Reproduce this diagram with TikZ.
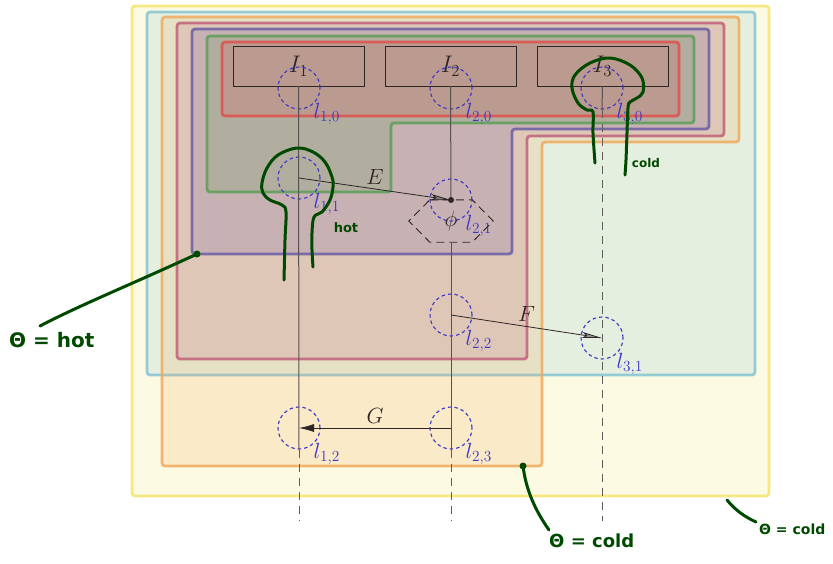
\RequirePackage{fix-cm}
\documentclass[tikz,border=0pt]{standalone}
\usepackage{fontspec}
\newfontfamily\handfont{DejaVu Sans}
\usetikzlibrary{arrows.meta}
\definecolor{cyel}{HTML}{F2E56E}
\definecolor{ccyan}{HTML}{86C3D3}
\definecolor{corange}{HTML}{F0AA5E}
\definecolor{cpink}{HTML}{C0607A}
\definecolor{cind}{HTML}{6A5FA6}
\definecolor{cgreen}{HTML}{5C9E58}
\definecolor{cred}{HTML}{E2504C}
\definecolor{hand}{HTML}{004A00}
\definecolor{lblue}{HTML}{3B36C8}
\definecolor{ink}{HTML}{2E2626}
\begin{document}
\begin{tikzpicture}[x=1pt,y=-1pt,
  region/.style={line width=2.8pt, rounded corners=3pt, fill opacity=0.2, draw opacity=0.85},
  ibox/.style={draw=ink, line width=0.7pt, minimum width=131pt, minimum height=40pt, inner sep=0pt, text=ink, font=\fontsize{24}{24}\selectfont},
  lcirc/.style={circle, draw=lblue, dashed, dash pattern=on 3.5pt off 3pt, line width=1.1pt, minimum size=42pt, inner sep=0pt},
  lab/.style={text=lblue, inner sep=0pt, label distance=-1pt, font=\fontsize{22}{22}\selectfont},
  vline/.style={draw=ink!80, line width=1pt},
  vdash/.style={draw=ink!75, line width=1pt, dash pattern=on 8pt off 6pt},
  mlab/.style={text=ink, font=\fontsize{22}{22}\selectfont},
  handline/.style={draw=hand, line width=3pt, line cap=round, line join=round},
  handtext/.style={text=hand, font=\handfont\bfseries, inner sep=0pt}
]
\useasboundingbox (0,0) rectangle (833,563);
% regions
\draw[region, draw=cyel, fill=cyel] (132,6) rectangle (769,496);
\draw[region, draw=ccyan, fill=ccyan] (147,12) rectangle (755,375);
\draw[region, draw=corange, fill=corange] (162,17) -- (739,17) -- (739,142) -- (542,142) -- (542,466) -- (162,466) -- cycle;
\draw[region, draw=cpink, fill=cpink] (177,23) -- (724,23) -- (724,136) -- (527,136) -- (527,359) -- (177,359) -- cycle;
\draw[region, draw=cind, fill=cind] (192,29) -- (709,29) -- (709,129) -- (512,129) -- (512,254) -- (192,254) -- cycle;
\draw[region, draw=cgreen, fill=cgreen] (207,36) -- (694,36) -- (694,123) -- (391,123) -- (391,192) -- (207,192) -- cycle;
\draw[region, draw=cred, fill=cred] (222,42) rectangle (679,116);
% interface boxes
\node[ibox] (I1) at (298.5,66) {$I_1$};
\node[ibox] (I2) at (450.5,66) {$I_2$};
\node[ibox] (I3) at (602.5,66) {$I_3$};
% location circles
\node[lcirc, label={[lab]-45:$l_{1,0}$}] (l10) at (299,88) {};
\node[lcirc, label={[lab]-45:$l_{2,0}$}] (l20) at (451,88) {};
\node[lcirc, label={[lab]-45:$l_{3,0}$}] (l30) at (602,88) {};
\node[lcirc, label={[lab]-45:$l_{1,1}$}] (l11) at (299,178) {};
\node[lcirc, label={[lab]-45:$l_{2,1}$}] (l21) at (451,200) {};
\node[lcirc, label={[lab]-45:$l_{2,2}$}] (l22) at (451,315) {};
\node[lcirc, label={[lab]-45:$l_{3,1}$}] (l31) at (602,338) {};
\node[lcirc, label={[lab]-45:$l_{1,2}$}] (l12) at (299,428) {};
\node[lcirc, label={[lab]-45:$l_{2,3}$}] (l23) at (451,428) {};
% phi hexagon
\node[mlab, inner sep=0pt, minimum width=84pt, minimum height=42pt] (hex) at (451,221) {$\phi$};
\draw[draw=ink, line width=0.9pt, dash pattern=on 8pt off 5pt]
  ([xshift=21pt]hex.north west) -- ([xshift=-21pt]hex.north east) -- (hex.east)
  -- ([xshift=-21pt]hex.south east) -- ([xshift=21pt]hex.south west) -- (hex.west) -- cycle;
% end coordinates
\coordinate (c1) at (299,521);
\coordinate (c2) at (451,521);
\coordinate (c3) at (602,521);
% vertical lines
\draw[vline] (I1.south) -- (l12.south);
\draw[vdash] (l12.south) -- (c1);
\draw[vline] (I2.south) -- (l21.center);
\draw[vline] (hex.south) -- (l23.south);
\draw[vdash] (l23.south) -- (c2);
\draw[vline] (I3.south) -- (l30.south);
\draw[vdash] (l30.south) -- (c3);
% transitions
\draw[ink, line width=0.8pt, -{Stealth[length=20pt,width=6pt,inset=4pt,fill=ink!60]}] (l11.center) -- (l21.center) node[mlab, midway, above=1pt] {$E$};
\fill[ink] (l21.center) circle (3pt);
\draw[ink, line width=0.8pt, -{Stealth[length=20pt,width=6pt,inset=4pt,fill=ink!50]}] (l22.center) -- (l31.center) node[mlab, midway, above=1pt] {$F$};
\draw[ink, line width=0.8pt, -{Latex[length=15pt,width=8pt]}] (l23.center) -- (l12.center) node[mlab, midway, above=1pt] {$G$};
% hand annotations
\draw[handline] plot[smooth, tension=0.6] coordinates {(284,280) (285,240) (286,212) (282,205) (270,200) (263,193) (262,183) (267,168) (278,155) (297,148) (313,152) (325,162) (332,177) (333,187) (330,200) (322,212) (314,217) (312,233) (312,250) (313,267)};
\node[handtext, font=\handfont\bfseries\fontsize{13}{13}\selectfont] (hot) at (346,228) {hot};
\draw[handline] plot[smooth, tension=0.6] coordinates {(595,163) (593,133) (593,112) (587,110) (578,103) (572,88) (575,75) (590,63) (610,58) (630,65) (642,78) (643,92) (637,98) (630,102) (628,108) (627,133) (626,160) (625,175)};
\node[handtext, font=\handfont\bfseries\fontsize{12}{12}\selectfont] (cold) at (646,163) {cold};
% theta annotations
\coordinate (p1) at (197,254);
\fill[hand] (p1) circle (3.5pt);
\node[handtext, font=\handfont\bfseries\fontsize{20}{20}\selectfont, anchor=west] (t1) at (9,340) {Θ = hot};
\draw[handline] (p1) .. controls (130,285) and (80,305) .. (40,326);
\coordinate (p2) at (523,466);
\fill[hand] (p2) circle (3.5pt);
\node[handtext, font=\handfont\bfseries\fontsize{18}{18}\selectfont, anchor=west] (t2) at (549,541) {Θ = cold};
\draw[handline] (p2) .. controls (526,490) and (535,510) .. (549,530);
\coordinate (p3) at (727,500);
\node[handtext, font=\handfont\bfseries\fontsize{14}{14}\selectfont, anchor=west] (t3) at (759,529) {Θ = cold};
\draw[handline] (p3) .. controls (735,510) and (745,517) .. (756,522);
\end{tikzpicture}
\end{document}
